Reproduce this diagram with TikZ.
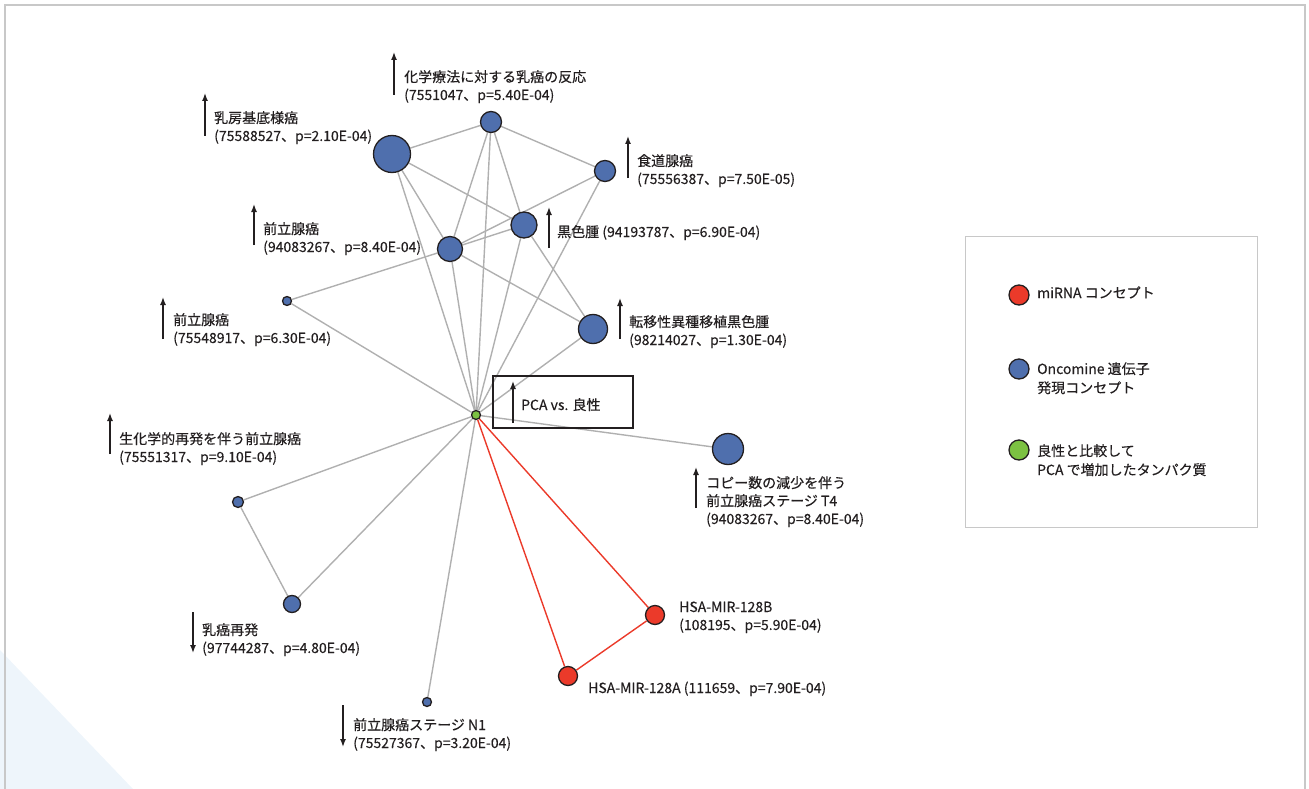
\documentclass[tikz,border=0pt]{standalone}
\usepackage{fontspec}
\setmainfont{Noto Sans CJK JP}[FakeBold=0.3]
\usetikzlibrary{arrows.meta,backgrounds}
\definecolor{nblue}{HTML}{4F6FAD}
\definecolor{nred}{HTML}{EB3A2A}
\definecolor{ngreen}{HTML}{7CC242}
\definecolor{edgegray}{HTML}{B0B0B0}
\definecolor{txt}{HTML}{231F20}
\definecolor{framegray}{HTML}{C8C8C8}
\definecolor{tri}{HTML}{EEF5FB}
\tikzset{
  dot/.style={circle, draw=txt, line width=1.3pt, inner sep=0pt, minimum size=#1},
  bluedot/.style={dot=#1, fill=nblue},
  reddot/.style={dot=#1, fill=nred},
  greendot/.style={dot=#1, fill=ngreen},
  edge/.style={draw=edgegray, line width=1.4pt},
  redge/.style={draw=nred, line width=1.4pt},
  lbl/.style={anchor=base west, align=left, font=\fontsize{14}{18}\selectfont, text=txt, inner sep=0pt},
  updown/.style={-{Latex[length=8pt,width=6pt]}, line width=1.4pt, draw=txt},
}
\begin{document}
\begin{tikzpicture}[x=1pt,y=-1pt]
\useasboundingbox (0,0) rectangle (1309,789);
\fill[tri] (0,650) -- (133,789) -- (0,789) -- cycle;
\draw[framegray, line width=1.5pt] (5,789) -- (5,5) -- (1305,5) -- (1305,789);

% nodes
\node[bluedot=37pt] (basal) at (392,154) {};
\node[bluedot=21pt] (chemo) at (491,122) {};
\node[bluedot=21pt] (eso) at (605,171) {};
\node[bluedot=26pt] (mel) at (524,225) {};
\node[bluedot=25pt] (pro1) at (450,249) {};
\node[bluedot=9pt] (pro2) at (287,301) {};
\node[bluedot=29pt] (meta) at (593,329) {};
\node[greendot=9pt] (pca) at (476,415) {};
\node[bluedot=31pt] (copy) at (728,449) {};
\node[bluedot=11pt] (bio) at (238,502) {};
\node[bluedot=17pt] (rec) at (292,604) {};
\node[bluedot=9pt] (n1) at (427,702) {};
\node[reddot=19pt] (m128b) at (655,615) {};
\node[reddot=19pt] (m128a) at (568,676) {};

\begin{pgfonlayer}{background}
\draw[edge] (basal) -- (chemo);
\draw[edge] (chemo) -- (eso);
\draw[edge] (basal) -- (mel);
\draw[edge] (basal) -- (pro1);
\draw[edge] (basal) -- (pca);
\draw[edge] (chemo) -- (pro1);
\draw[edge] (chemo) -- (mel);
\draw[edge] (chemo) -- (pca);
\draw[edge] (eso) -- (pro1);
\draw[edge] (eso) -- (pca);
\draw[edge] (mel) -- (pro1);
\draw[edge] (mel) -- (meta);
\draw[edge] (mel) -- (pca);
\draw[edge] (pro1) -- (pca);
\draw[edge] (pro1) -- (meta);
\draw[edge] (pro2) -- (pro1);
\draw[edge] (pro2) -- (pca);
\draw[edge] (meta) -- (pca);
\draw[edge] (pca) -- (copy);
\draw[edge] (pca) -- (bio);
\draw[edge] (pca) -- (rec);
\draw[edge] (bio) -- (rec);
\draw[edge] (pca) -- (n1);
\draw[redge] (pca) -- (m128b);
\draw[redge] (pca) -- (m128a);
\draw[redge] (m128a) -- (m128b);
\end{pgfonlayer}

% PCA box
\node[draw=txt, line width=1.3pt, minimum width=140pt, minimum height=52pt, inner sep=0pt] (pcabox) at (563,402) {};
\node[lbl] (pcat) at (521,410) {PCA vs. 良性};
\draw[updown] (513,423) -- (513,381);

% labels (anchor = baseline of last line)
\node[lbl] (lchemo) at (404,100) {化学療法に対する乳癌の反応\\(7551047、p=5.40E-04)};
\draw[updown] (394,95) -- (394,52);
\node[lbl] (lbasal) at (214,141) {乳房基底様癌\\(75588527、p=2.10E-04)};
\draw[updown] (205,136) -- (205,93);
\node[lbl] (leso) at (637,184) {食道腺癌\\(75556387、p=7.50E-05)};
\draw[updown] (628,178) -- (628,136);
\node[lbl] (lmel) at (557,237) {黒色腫 (94193787、p=6.90E-04)};
\draw[updown] (549,248) -- (549,207);
\node[lbl] (lpro1) at (263,252) {前立腺癌\\(94083267、p=8.40E-04)};
\draw[updown] (254,245) -- (254,204);
\node[lbl] (lpro2) at (173,343) {前立腺癌\\(75548917、p=6.30E-04)};
\draw[updown] (163,339) -- (163,297);
\node[lbl] (lmeta) at (629,345) {転移性異種移植黒色腫\\(98214027、p=1.30E-04)};
\draw[updown] (620,339) -- (620,298);
\node[lbl] (lbio) at (119,462) {生化学的再発を伴う前立腺癌\\(75551317、p=9.10E-04)};
\draw[updown] (110,454) -- (110,413);
\node[lbl] (lcopy) at (706,524) {コピー数の減少を伴う\\前立腺癌ステージ T4\\(94083267、p=8.40E-04)};
\draw[updown] (696,508) -- (696,467);
\node[lbl] (lrec) at (202,653) {乳癌再発\\(97744287、p=4.80E-04)};
\draw[updown] (193,612) -- (193,653);
\node[lbl] (ln1) at (353,748) {前立腺癌ステージ N1\\(75527367、p=3.20E-04)};
\draw[updown] (343,705) -- (343,747);
\node[lbl] (lm128b) at (679,630) {HSA-MIR-128B\\(108195、p=5.90E-04)};
\node[lbl] (lm128a) at (588,693) {HSA-MIR-128A (111659、p=7.90E-04)};

% legend
\node[draw=framegray, line width=1pt, minimum width=292pt, minimum height=291pt, inner sep=0pt] (legend) at (1111,381.5) {};
\node[reddot=20pt] (kred) at (1019,295) {};
\node[bluedot=20pt] (kblue) at (1019,369) {};
\node[greendot=20pt] (kgreen) at (1019,450) {};
\node[lbl] (tred) at (1037,298) {miRNA コンセプト};
\node[lbl, font=\fontsize{14}{19}\selectfont] (tblue) at (1037,393) {Oncomine 遺伝子\\発現コンセプト};
\node[lbl, font=\fontsize{14}{19}\selectfont] (tgreen) at (1037,475) {良性と比較して\\PCA で増加したタンパク質};
\end{tikzpicture}
\end{document}
